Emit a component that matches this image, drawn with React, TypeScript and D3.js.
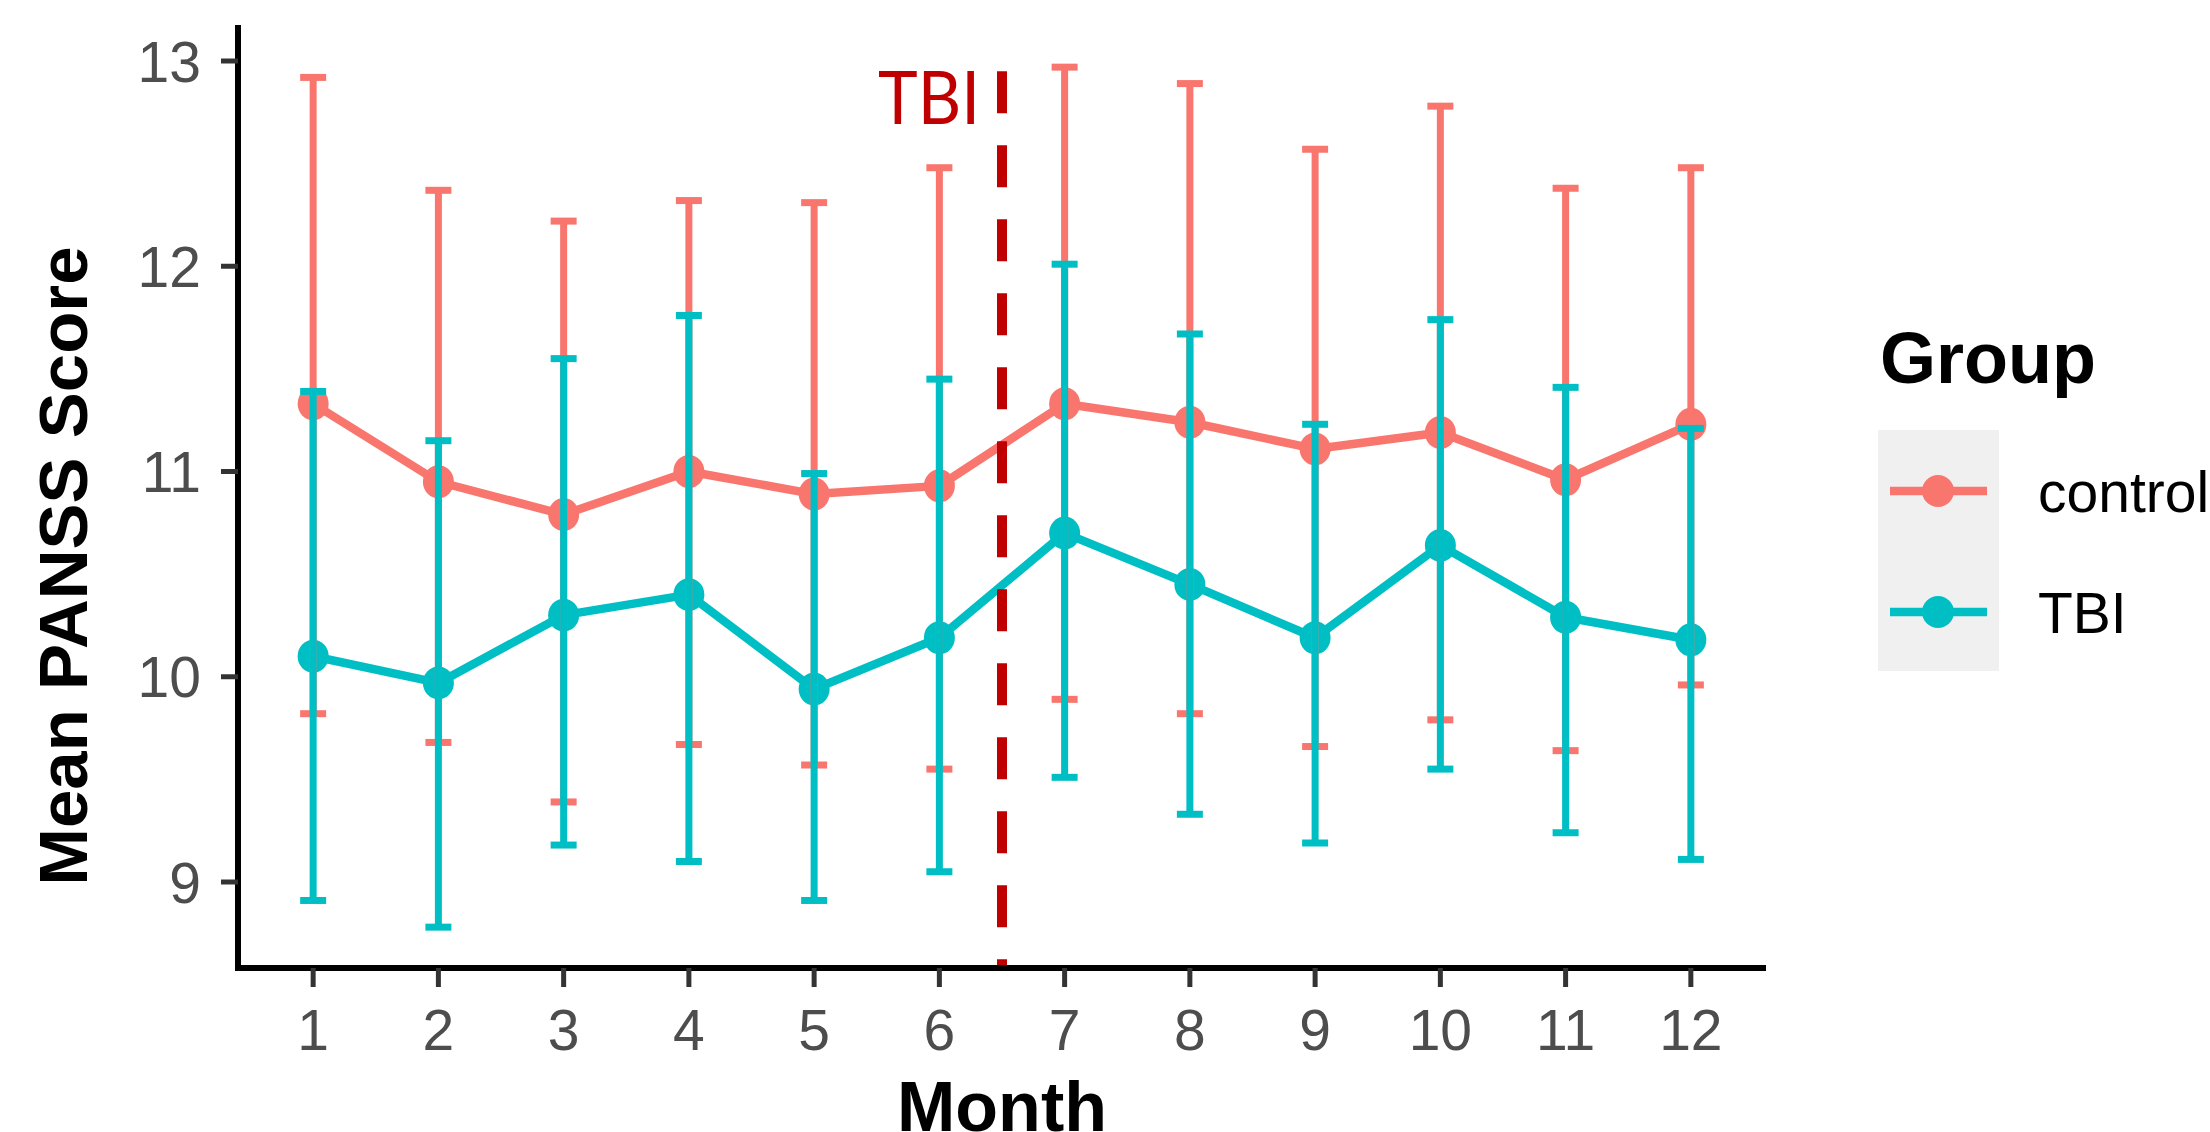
import React from "react";
import * as d3 from "d3";

const months = [1, 2, 3, 4, 5, 6, 7, 8, 9, 10, 11, 12];
const controlMean = [11.33, 10.95, 10.79, 11.0, 10.89, 10.93, 11.33, 11.24, 11.11, 11.19, 10.96, 11.23];
const controlUpper = [12.92, 12.37, 12.22, 12.32, 12.31, 12.48, 12.97, 12.89, 12.57, 12.78, 12.38, 12.48];
const controlLower = [9.82, 9.68, 9.39, 9.67, 9.57, 9.55, 9.89, 9.82, 9.66, 9.79, 9.64, 9.96];
const tbiMean = [10.1, 9.97, 10.3, 10.4, 9.94, 10.19, 10.7, 10.45, 10.19, 10.64, 10.29, 10.18];
const tbiUpper = [11.39, 11.15, 11.55, 11.76, 10.99, 11.45, 12.01, 11.67, 11.23, 11.74, 11.41, 11.21];
const tbiLower = [8.91, 8.78, 9.18, 9.1, 8.91, 9.05, 9.51, 9.33, 9.19, 9.55, 9.24, 9.11];
const yTicks = [9, 10, 11, 12, 13];
const groups = ["control", "TBI"];
const groupColors = ["#F8766D", "#00BFC4"];
const eventMonth = 6.5;
const eventLabel = "TBI";
const eventTop = 12.95;

const W = 2210;
const H = 1132;

export default function App() {
  const x = d3.scaleLinear().domain([0.4, 12.6]).range([238, 1766]);
  const y = d3.scaleLinear().domain([9, 13]).range([882, 61]);
  const panelTop = 25;
  const panelBottom = 968;

  const series = [
    { name: groups[0], color: groupColors[0], mean: controlMean, lo: controlLower, hi: controlUpper },
    { name: groups[1], color: groupColors[1], mean: tbiMean, lo: tbiLower, hi: tbiUpper },
  ];

  const line = d3
    .line<number>()
    .x((_, i) => x(months[i]))
    .y((d) => y(d));

  const capHalf = 13;
  const font = "'Liberation Sans', Arial, Helvetica, sans-serif";

  return (
    <svg
      width={W}
      height={H}
      style={{ position: "absolute", left: 0, top: 0, display: "block", background: "#fff" }}
    >
      <rect x={0} y={0} width={W} height={H} fill="#ffffff" />
      {series.map((s) => (
        <path key={"l" + s.name} d={line(s.mean) || ""} fill="none" stroke={s.color} strokeWidth={8.5} strokeLinejoin="round" />
      ))}
      {series.map((s) => (
        <g key={"p" + s.name}>
          {s.mean.map((v, i) => (
            <ellipse key={i} cx={x(months[i])} cy={y(v)} rx={15.5} ry={16.5} fill={s.color} />
          ))}
        </g>
      ))}
      {series.map((s) => (
        <g key={"e" + s.name} stroke={s.color} strokeWidth={7} fill="none">
          {months.map((m, i) => (
            <g key={i}>
              <line x1={x(m)} x2={x(m)} y1={y(s.hi[i])} y2={y(s.lo[i])} />
              <line x1={x(m) - capHalf} x2={x(m) + capHalf} y1={y(s.hi[i])} y2={y(s.hi[i])} />
              <line x1={x(m) - capHalf} x2={x(m) + capHalf} y1={y(s.lo[i])} y2={y(s.lo[i])} />
            </g>
          ))}
        </g>
      ))}
      <line
        x1={x(eventMonth)}
        x2={x(eventMonth)}
        y1={y(eventTop)}
        y2={panelBottom}
        stroke="#C00000"
        strokeWidth={10}
        strokeDasharray="42,32"
      />
      <text
        x={x(eventMonth) - 22}
        y={124}
        textAnchor="end"
        fill="#C00000"
        fontFamily="Lato, 'Open Sans', sans-serif"
        fontSize={74}
        textLength={102}
        lengthAdjust="spacingAndGlyphs"
      >
        {eventLabel}
      </text>

      <line x1={x(0.4)} x2={x(0.4)} y1={panelTop} y2={panelBottom + 3} stroke="#000" strokeWidth={6} />
      <line x1={x(0.4) - 3} x2={x(12.6)} y1={panelBottom} y2={panelBottom} stroke="#000" strokeWidth={6} />
      {yTicks.map((t) => (
        <g key={"yt" + t}>
          <line x1={x(0.4) - 17} x2={x(0.4)} y1={y(t)} y2={y(t)} stroke="#333" strokeWidth={5} />
          <text
            x={201}
            y={y(t)}
            dy="0.36em"
            textAnchor="end"
            fill="#4D4D4D"
            fontFamily={font}
            fontSize={57}
          >
            {t}
          </text>
        </g>
      ))}
      {months.map((m) => (
        <g key={"xt" + m}>
          <line x1={x(m)} x2={x(m)} y1={panelBottom} y2={panelBottom + 19} stroke="#333" strokeWidth={5} />
          <text x={x(m)} y={1050} textAnchor="middle" fill="#4D4D4D" fontFamily={font} fontSize={57}>
            {m}
          </text>
        </g>
      ))}
      <text
        x={(x(0.4) + x(12.6)) / 2}
        y={1131}
        textAnchor="middle"
        fontFamily={font}
        fontWeight="bold"
        fontSize={70}
        fill="#000"
      >
        Month
      </text>
      <text
        transform={`translate(87, 566) rotate(-90)`}
        textAnchor="middle"
        fontFamily={font}
        fontWeight="bold"
        fontSize={69}
        fill="#000"
      >
        Mean PANSS Score
      </text>

      <text x={1880} y={383} fontFamily={font} fontWeight="bold" fontSize={72} fill="#000">
        Group
      </text>
      <rect x={1878} y={430} width={121} height={241} fill="#F0F0F0" />
      {series.map((s, i) => {
        const cy = 491 + i * 121;
        return (
          <g key={"lg" + s.name}>
            <line x1={1890} x2={1987} y1={cy} y2={cy} stroke={s.color} strokeWidth={8.5} />
            <circle cx={1938} cy={cy} r={16} fill={s.color} />
            <text x={2038} y={cy} dy="0.36em" fontFamily={font} fontSize={57} fill="#000">
              {s.name}
            </text>
          </g>
        );
      })}
    </svg>
  );
}
